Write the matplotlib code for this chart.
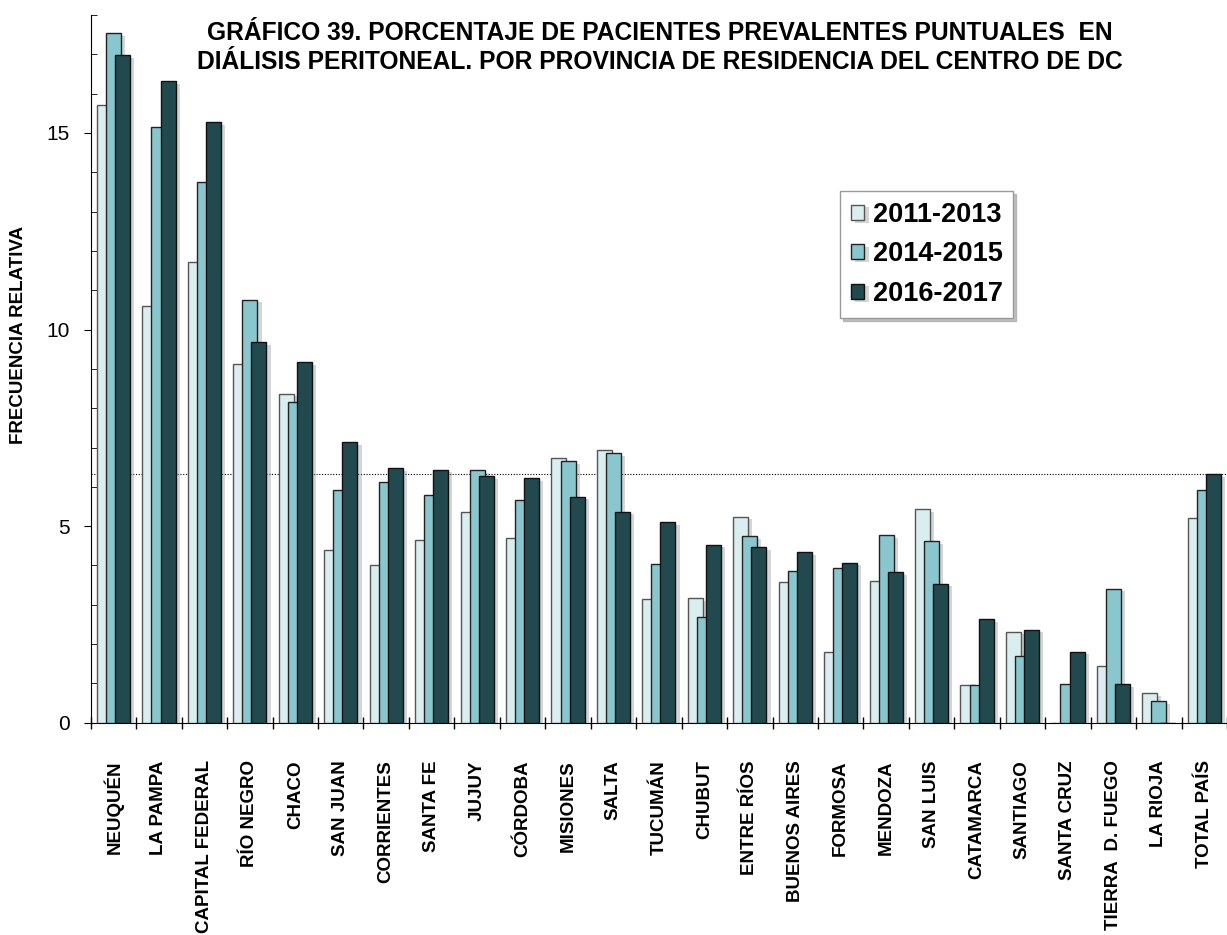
import numpy as np
import matplotlib
matplotlib.use("Agg")
import matplotlib.pyplot as plt
import matplotlib.patheffects as pe
from matplotlib.ticker import MultipleLocator, FixedLocator

plt.rcParams['font.family'] = ['Liberation Sans', 'DejaVu Sans']

# datos
provincias = ['NEUQUÉN', 'LA PAMPA', 'CAPITAL FEDERAL', 'RÍO NEGRO', 'CHACO',
              'SAN JUAN', 'CORRIENTES', 'SANTA FE', 'JUJUY', 'CÓRDOBA',
              'MISIONES', 'SALTA', 'TUCUMÁN', 'CHUBUT', 'ENTRE RÍOS',
              'BUENOS AIRES', 'FORMOSA', 'MENDOZA', 'SAN LUIS', 'CATAMARCA',
              'SANTIAGO', 'SANTA CRUZ', 'TIERRA  D. FUEGO', 'LA RIOJA', 'TOTAL PAÍS']
p2011_2013 = [15.72, 10.59, 11.71, 9.12, 8.37, 4.39, 4.01, 4.64, 5.37, 4.69,
              6.74, 6.93, 3.15, 3.16, 5.24, 3.59, 1.79, 3.61, 5.43, 0.97,
              2.32, 0.0, 1.44, 0.76, 5.20]
p2014_2015 = [17.54, 15.15, 13.75, 10.76, 8.16, 5.91, 6.13, 5.79, 6.43, 5.66,
              6.65, 6.85, 4.04, 2.69, 4.74, 3.85, 3.93, 4.78, 4.61, 0.95,
              1.71, 0.98, 3.41, 0.55, 5.92]
p2016_2017 = [16.97, 16.32, 15.27, 9.68, 9.17, 7.14, 6.48, 6.44, 6.27, 6.22,
              5.75, 5.37, 5.10, 4.53, 4.46, 4.34, 4.07, 3.83, 3.54, 2.64,
              2.37, 1.81, 0.98, 0.0, 6.32]
periodos = ['2011-2013', '2014-2015', '2016-2017']

colores = ['#DAEEF0', '#8AC6CE', '#224A4E']
bordes = ['#555555', '#222222', '#111111']

fig = plt.figure(figsize=(12.27, 9.35), dpi=100)
ax = fig.add_axes([0.074, 0.227, 0.926, 0.757])

x = np.arange(len(provincias))
series = [p2011_2013, p2014_2015, p2016_2017]
sombra = [pe.SimplePatchShadow(offset=(3, -2), shadow_rgbFace='#888888', alpha=0.35), pe.Normal()]
for i, datos in enumerate(series):
    ax.bar(x + (i - 1) * 0.2, datos, width=0.33, color=colores[i],
           edgecolor=bordes[i], linewidth=1.0, label=periodos[i],
           zorder=3 + i, path_effects=sombra)

# linea punteada del total pais
ax.axhline(p2016_2017[-1], color='black', linestyle=(0, (1, 1.5)), linewidth=0.8, zorder=1)

ax.set_xlim(-0.5, len(provincias) - 0.5)
ax.set_ylim(0, 18)
ax.spines['top'].set_visible(False)
ax.spines['right'].set_visible(False)

ax.set_xticks(x)
ax.set_xticklabels(provincias, rotation=90, fontsize=13.5, fontweight='bold', va='top')
ax.tick_params(axis='x', which='major', length=0, pad=27)
ax.xaxis.set_minor_locator(FixedLocator(np.arange(-0.5, len(provincias), 1)))
ax.tick_params(axis='x', which='minor', direction='inout', length=9, width=1)

ax.yaxis.set_major_locator(MultipleLocator(5))
ax.yaxis.set_minor_locator(MultipleLocator(1))
ax.tick_params(axis='y', which='major', direction='out', length=5, labelsize=15, pad=10)
ax.tick_params(axis='y', which='minor', direction='in', length=4.5)

fig.text(19 / 1227, 1 - 335 / 935, 'FRECUENCIA RELATIVA', rotation=90,
         fontsize=13.5, fontweight='bold', ha='center', va='center')

fig.text(660 / 1227, 1 - 33 / 935,
         'GRÁFICO 39. PORCENTAJE DE PACIENTES PREVALENTES PUNTUALES  EN',
         fontsize=17.7, fontweight='bold', ha='center', va='center')
fig.text(660 / 1227, 1 - 62 / 935,
         'DIÁLISIS PERITONEAL. POR PROVINCIA DE RESIDENCIA DEL CENTRO DE DC',
         fontsize=17.7, fontweight='bold', ha='center', va='center')

leg = ax.legend(loc='upper left', bbox_to_anchor=(840 / 1227, 1 - 191 / 935),
                bbox_transform=fig.transFigure, prop={'size': 19.5, 'weight': 'bold'},
                handlelength=0.5, handleheight=0.5, handletextpad=0.3,
                labelspacing=0.5, borderpad=0.4, fancybox=False,
                shadow={'color': '#999999', 'alpha': 0.6}, framealpha=1,
                borderaxespad=0)
leg.get_frame().set_edgecolor('#999999')
leg.get_frame().set_linewidth(1.0)

fig.savefig('out.png', dpi=100)
